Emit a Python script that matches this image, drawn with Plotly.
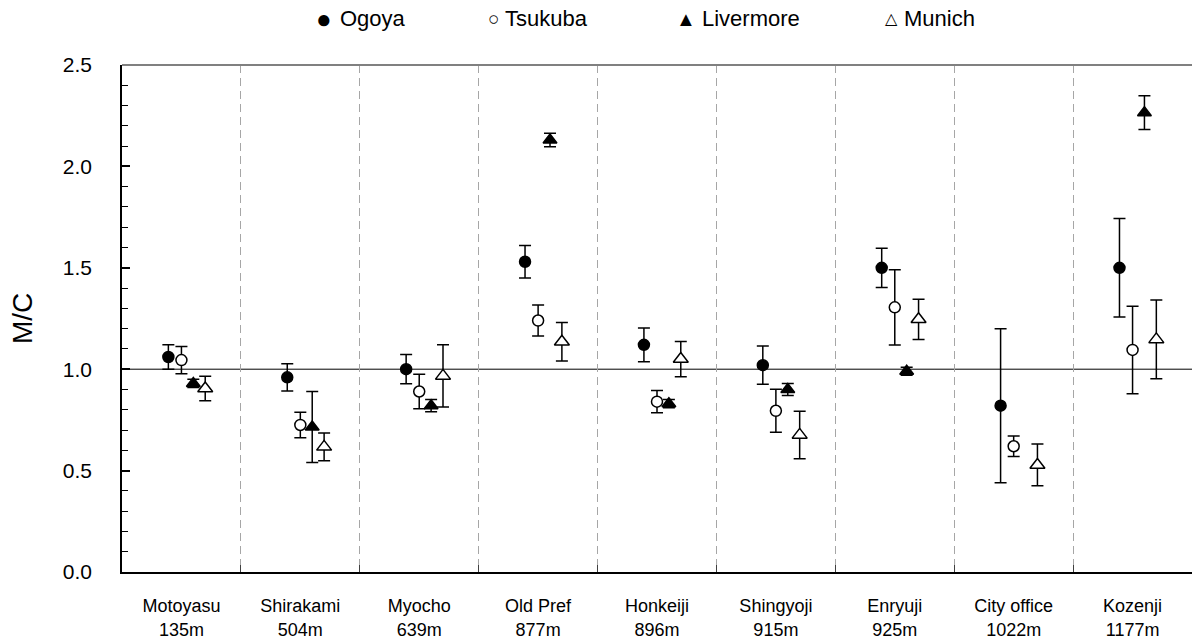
import plotly.graph_objects as go

# ---- data ----
categories = ["Motoyasu", "Shirakami", "Myocho", "Old Pref", "Honkeiji",
              "Shingyoji", "Enryuji", "City office", "Kozenji"]
altitudes = ["135m", "504m", "639m", "877m", "896m", "915m", "925m", "1022m", "1177m"]

ogoya = [1.06, 0.96, 1.00, 1.53, 1.12, 1.02, 1.50, 0.82, 1.50]
ogoya_err = [0.06, 0.067, 0.072, 0.08, 0.083, 0.094, 0.097, 0.38, 0.243]

tsukuba = [1.045, 0.725, 0.89, 1.24, 0.84, 0.795, 1.305, 0.62, 1.095]
tsukuba_err = [0.067, 0.063, 0.085, 0.076, 0.055, 0.106, 0.186, 0.05, 0.216]

livermore = [0.93, 0.715, 0.82, 2.13, 0.83, 0.90, 0.99, None, 2.265]
livermore_err = [0.02, 0.175, 0.03, 0.033, 0.02, 0.03, 0.02, None, 0.083]

munich = [0.905, 0.617, 0.967, 1.135, 1.05, 0.676, 1.246, 0.528, 1.147]
munich_err = [0.06, 0.068, 0.153, 0.095, 0.087, 0.117, 0.099, 0.103, 0.194]

series_names = ["Ogoya", "Tsukuba", "Livermore", "Munich"]
series_values = [ogoya, tsukuba, livermore, munich]
series_errors = [ogoya_err, tsukuba_err, livermore_err, munich_err]

# ---- styles / layout constants ----
FONT = "Liberation Sans, Arial, sans-serif"
offsets = [-0.11, 0.0, 0.1, 0.2]
symbols = ["circle", "circle", "triangle-up", "triangle-up"]
fills = ["black", "white", "black", "white"]
sizes = [11, 11, 12, 13]

W, H = 1192, 641
ML, MR, MT = 122, 0, 65
PW = 1070
PH = 507
MB = H - MT - PH

def px_to_paper_x(px):
    return (px - ML) / PW

def px_to_paper_y(py):
    return (MT + PH - py) / PH

fig = go.Figure()
centers = [i + 0.5 for i in range(len(categories))]

for name, vals, errs, off, sym, fill, sz in zip(series_names, series_values, series_errors,
                                                offsets, symbols, fills, sizes):
    fig.add_trace(go.Scatter(
        x=[c + off for c in centers],
        y=vals,
        name=name,
        mode="markers",
        showlegend=False,
        marker=dict(symbol=sym, size=sz, color=fill,
                    line=dict(color="black", width=1.5)),
        error_y=dict(type="data", array=errs, visible=True,
                     color="black", thickness=1.5, width=6),
    ))

# reference line at M/C = 1 and top frame line
fig.add_shape(type="line", xref="paper", yref="y", x0=0, x1=1, y0=1.0, y1=1.0,
              line=dict(color="black", width=1), layer="below")
fig.add_shape(type="line", xref="paper", yref="paper", x0=0, x1=1, y0=1, y1=1,
              line=dict(color="#808080", width=2), layer="above")

# y-axis title
fig.add_annotation(text="M/C", xref="paper", yref="paper",
                   x=px_to_paper_x(22.5), y=0.5, textangle=-90,
                   showarrow=False, xanchor="center", yanchor="middle",
                   font=dict(family=FONT, size=28, color="black"))

# legend drawn as text
legend_items = [
    ("●", 324, 26, "Ogoya", 338),
    ("○", 493, 19, "Tsukuba", 503),
    ("▲", 686, 20, "Livermore", 700),
    ("△", 891, 16, "Munich", 902),
]
ly = px_to_paper_y(19)
for sym, sx, ssz, label, tx in legend_items:
    fig.add_annotation(text=sym, xref="paper", yref="paper", x=px_to_paper_x(sx), y=ly,
                       showarrow=False, xanchor="center", yanchor="middle",
                       font=dict(family=FONT, size=ssz, color="black"))
    fig.add_annotation(text=label, xref="paper", yref="paper", x=px_to_paper_x(tx), y=ly,
                       showarrow=False, xanchor="left", yanchor="middle",
                       font=dict(family=FONT, size=22, color="black"))

fig.update_layout(
    width=W, height=H,
    margin=dict(l=ML, r=MR, t=MT, b=MB, pad=0),
    plot_bgcolor="white", paper_bgcolor="white",
    font=dict(family=FONT, color="black"),
    showlegend=False,
    xaxis=dict(
        range=[0, len(categories)],
        tickmode="array",
        tickvals=centers,
        ticktext=[f"{c}<br>{a}" for c, a in zip(categories, altitudes)],
        ticks="", showgrid=False, zeroline=False,
        showline=True, linecolor="black", linewidth=1.5,
        tickfont=dict(family=FONT, size=18, color="black"),
        ticklabelstandoff=17,
        minor=dict(tickmode="array", tickvals=list(range(1, len(categories))),
                   ticks="inside", ticklen=7, tickcolor="#404040", tickwidth=1,
                   showgrid=True, gridcolor="#a6a6a6", gridwidth=1, griddash="8px,5px"),
    ),
    yaxis=dict(
        range=[0, 2.5],
        tickmode="array",
        tickvals=[0, 0.5, 1.0, 1.5, 2.0, 2.5],
        tickformat=".1f",
        ticks="inside", ticklen=8, tickwidth=1.5, tickcolor="black",
        showline=True, linecolor="black", linewidth=1.5,
        showgrid=False, zeroline=False,
        tickfont=dict(family=FONT, size=21, color="black"),
        ticklabelstandoff=24,
        minor=dict(dtick=0.1, ticks="inside", ticklen=6, tickcolor="black",
                   tickwidth=1, showgrid=False),
    ),
)

# remove the browser's default 8px body margin so the figure fills the window exactly
fig.write_html("out.html",
               config={"displayModeBar": False},
               post_script="document.body.style.margin='0';document.body.style.overflow='hidden';")
